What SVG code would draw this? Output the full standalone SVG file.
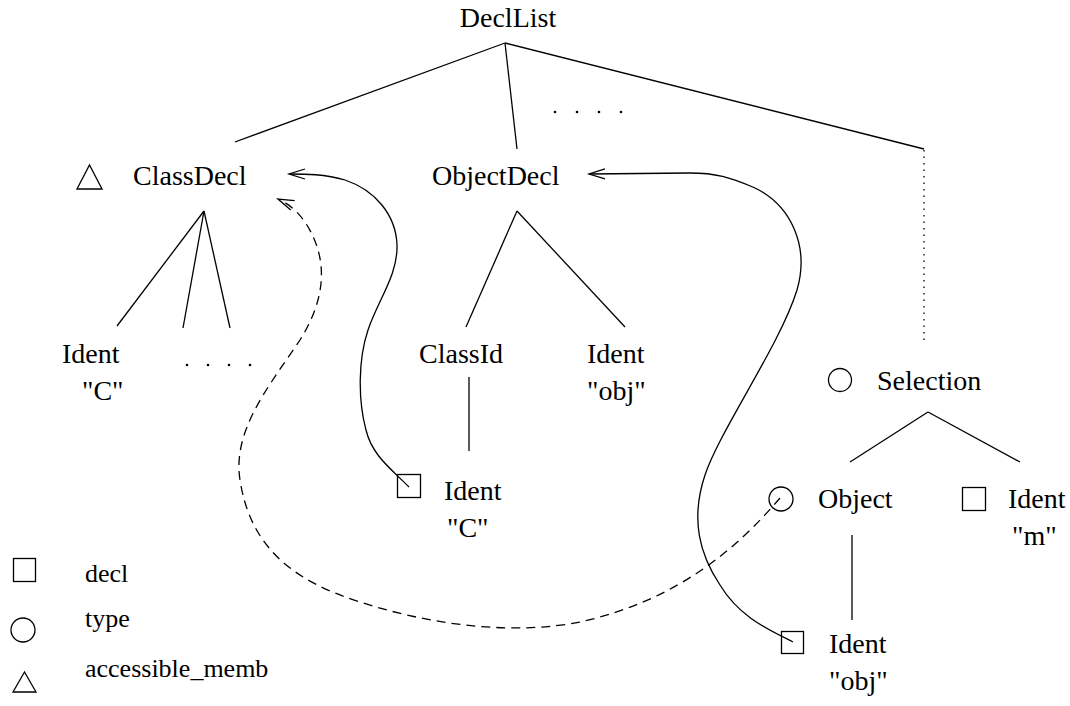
<svg xmlns="http://www.w3.org/2000/svg" width="1070" height="706" viewBox="0 0 1070 706">
<style>
text{font-family:"Liberation Serif","Times New Roman",serif;font-size:28px;fill:#000}
.lg{font-size:26px}
.e{stroke:#000;stroke-width:1.3;fill:none}
.sym{stroke:#000;stroke-width:1.3;fill:none}
.dash{stroke-dasharray:9 6}
.dot{stroke-dasharray:1.5 5}
</style>
<defs>
<marker id="ah" markerUnits="userSpaceOnUse" markerWidth="30" markerHeight="30" refX="0" refY="0" viewBox="-20 -15 30 30" orient="auto" overflow="visible">
<path d="M-16,-5 L0,0 L-16,5" fill="none" stroke="#000" stroke-width="1.3" stroke-dasharray="none"/>
</marker>
</defs>
<rect width="1070" height="706" fill="#fff"/>
<g id="connectors">
<line class="e" x1="505" y1="43" x2="235" y2="142"/>
<line class="e" x1="505" y1="43" x2="517" y2="149"/>
<line class="e" x1="505" y1="43" x2="924" y2="149"/>
<line class="e dot" x1="924" y1="150" x2="924" y2="340"/>
<line class="e" x1="204" y1="211" x2="117" y2="326"/>
<line class="e" x1="204" y1="211" x2="183" y2="328"/>
<line class="e" x1="204" y1="211" x2="230" y2="328"/>
<line class="e" x1="517" y1="211" x2="466" y2="327"/>
<line class="e" x1="517" y1="211" x2="625" y2="327"/>
<line class="e" x1="469" y1="377" x2="469" y2="451"/>
<line class="e" x1="928" y1="412" x2="850" y2="462"/>
<line class="e" x1="928" y1="412" x2="1020" y2="462"/>
<line class="e" x1="852" y1="535" x2="852" y2="620"/>
<path class="e" marker-end="url(#ah)" d="M409,487 C390,468 372,455 366,430 C358,400 358,360 368,330 C378,300 398,275 397,245 C396,215 375,190 345,180 C325,174 305,174 289,174"/>
<path class="e" marker-end="url(#ah)" d="M793,642 C770,630 740,618 720,585 C700,555 690,520 705,475 C720,430 780,345 797,290 C810,245 790,205 755,188 C730,177 715,173 690,173 L589,174"/>
<path class="e dash" marker-end="url(#ah)" d="M780,498 C740,545 680,600 580,622 C520,634 440,628 360,602 C290,580 250,545 240,480 C232,430 270,385 300,340 C325,300 330,260 305,222 C295,208 285,202 278,199"/>
<g id="dots1"><circle cx="555" cy="112" r="1.3"/><circle cx="577" cy="112" r="1.3"/><circle cx="599" cy="112" r="1.3"/><circle cx="621" cy="112" r="1.3"/></g>
</g>
<g id="DeclList"><text x="508" y="27" text-anchor="middle">DeclList</text></g>
<g id="ClassDecl"><path class="sym" d="M77,189 L89.5,165 L102,189 Z"/><text x="133" y="185">ClassDecl</text></g>
<g id="ObjectDecl"><text x="432" y="185">ObjectDecl</text></g>
<g id="IdentC1"><text x="62" y="363">Ident</text><text x="82" y="400">"C"</text></g>
<g id="dots2"><circle cx="187" cy="365" r="1.3"/><circle cx="208" cy="365" r="1.3"/><circle cx="229" cy="365" r="1.3"/><circle cx="250" cy="365" r="1.3"/></g>
<g id="ClassId"><text x="419" y="363">ClassId</text></g>
<g id="IdentObj1"><text x="587" y="363">Ident</text><text x="587" y="400">"obj"</text></g>
<g id="IdentC2"><rect class="sym" x="397.5" y="474.5" width="23" height="23"/><text x="444" y="500">Ident</text><text x="447" y="537">"C"</text></g>
<g id="Selection"><circle class="sym" cx="840" cy="380" r="11.5"/><text x="877" y="390">Selection</text></g>
<g id="Object"><circle class="sym" cx="781" cy="499" r="12"/><text x="818" y="508">Object</text></g>
<g id="IdentM"><rect class="sym" x="962.5" y="487.5" width="23" height="23"/><text x="1008" y="508">Ident</text><text x="1012" y="545">"m"</text></g>
<g id="IdentObj2"><rect class="sym" x="781.5" y="631.5" width="22" height="22"/><text x="829" y="653">Ident</text><text x="829" y="690">"obj"</text></g>
<g id="legend">
<rect class="sym" x="13.5" y="558.5" width="22" height="23"/><text class="lg" x="85" y="582">decl</text>
<circle class="sym" cx="23" cy="630" r="12"/><text class="lg" x="85" y="627">type</text>
<path class="sym" d="M13,692 L24.5,672 L36,692 Z"/><text class="lg" x="85" y="677">accessible_memb</text>
</g>
</svg>
